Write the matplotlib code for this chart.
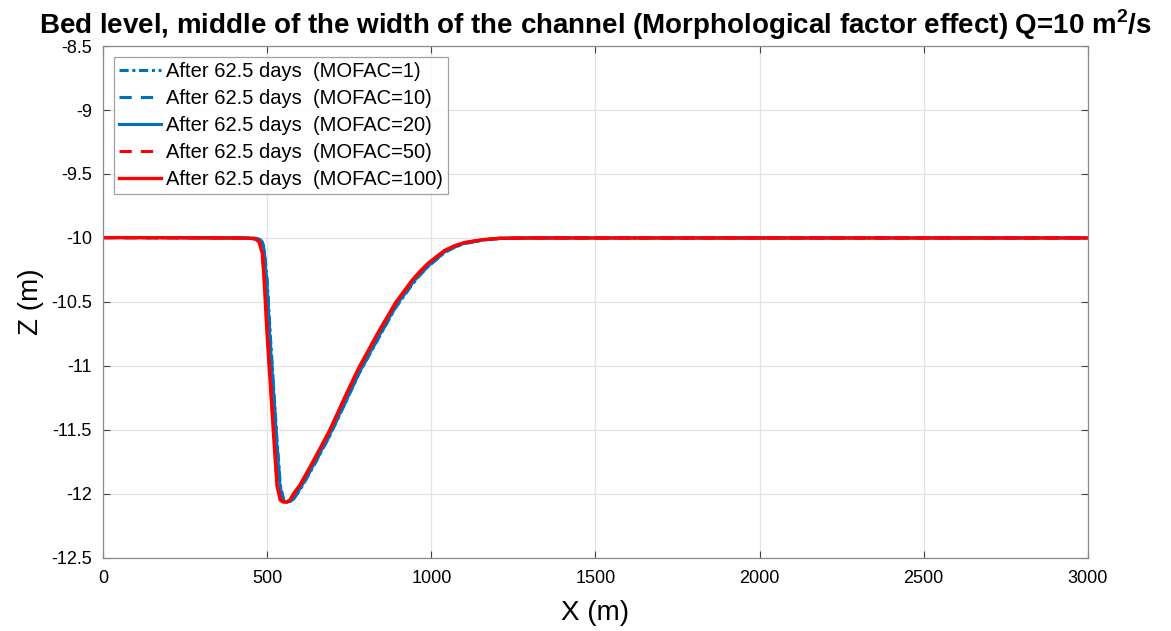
import matplotlib
matplotlib.use("Agg")
import matplotlib.pyplot as plt

# Distance along the channel (m)
x_m = [0, 200, 400, 450, 465, 475, 485, 490, 500, 510, 520, 530, 540, 550,
       560, 570, 580, 600, 640, 690, 740, 780, 840, 890, 940, 965, 990, 1040,
       1070, 1100, 1160, 1210, 1300, 2000, 3000]

# Bed level (m) at the channel centreline for each morphological factor
z_mofac1 = [-9.997, -9.998, -10.0, -10.001, -10.003, -10.008, -10.03, -10.07,
            -10.33, -10.78, -11.18, -11.58, -11.93, -12.045, -12.06, -12.055,
            -12.04, -11.97, -11.79, -11.55, -11.28, -11.06, -10.78, -10.55,
            -10.37, -10.29, -10.225, -10.115, -10.074, -10.045, -10.016,
            -10.004, -10.0, -10.0, -10.0]
z_mofac10 = [-9.997, -9.998, -10.0, -10.001, -10.004, -10.01, -10.035, -10.08,
             -10.37, -10.82, -11.22, -11.62, -11.95, -12.05, -12.06, -12.055,
             -12.04, -11.965, -11.785, -11.545, -11.275, -11.055, -10.775,
             -10.545, -10.365, -10.288, -10.222, -10.112, -10.072, -10.043,
             -10.015, -10.004, -10.0, -10.0, -10.0]
z_mofac20 = [-9.997, -9.998, -10.0, -10.001, -10.004, -10.01, -10.04, -10.08,
             -10.39, -10.85, -11.24, -11.64, -11.97, -12.053, -12.065, -12.06,
             -12.04, -11.96, -11.78, -11.54, -11.27, -11.05, -10.77, -10.54,
             -10.36, -10.285, -10.22, -10.11, -10.071, -10.042, -10.014,
             -10.003, -10.0, -10.0, -10.0]
z_mofac50 = [-9.997, -9.998, -10.0, -10.002, -10.008, -10.025, -10.1, -10.26,
             -10.72, -11.12, -11.52, -11.91, -12.045, -12.065, -12.065, -12.05,
             -12.005, -11.935, -11.75, -11.51, -11.23, -11.015, -10.735,
             -10.515, -10.34, -10.266, -10.2, -10.1, -10.064, -10.037, -10.012,
             -10.002, -10.0, -10.0, -10.0]
z_mofac100 = [-9.997, -9.998, -10.0, -10.003, -10.01, -10.03, -10.12, -10.3,
              -10.77, -11.16, -11.56, -11.94, -12.05, -12.065, -12.065, -12.045,
              -12.0, -11.93, -11.745, -11.505, -11.225, -11.01, -10.73, -10.51,
              -10.335, -10.262, -10.198, -10.098, -10.062, -10.036, -10.012,
              -10.002, -10.0, -10.0, -10.0]

labels = ["After 62.5 days  (MOFAC=1)",
          "After 62.5 days  (MOFAC=10)",
          "After 62.5 days  (MOFAC=20)",
          "After 62.5 days  (MOFAC=50)",
          "After 62.5 days  (MOFAC=100)"]

x_ticks = [0, 500, 1000, 1500, 2000, 2500, 3000]
y_ticks = [-12.5, -12, -11.5, -11, -10.5, -10, -9.5, -9, -8.5]
y_ticklabels = ["-12.5", "-12", "-11.5", "-11", "-10.5", "-10", "-9.5", "-9", "-8.5"]

blue = "#0072BD"
red = "#FF0000"

plt.rcParams["font.family"] = ["Liberation Sans", "DejaVu Sans"]
plt.rcParams["mathtext.fontset"] = "custom"
plt.rcParams["mathtext.rm"] = "Liberation Sans:bold"
plt.rcParams["mathtext.bf"] = "Liberation Sans:bold"

fig = plt.figure(figsize=(11.71, 6.31), dpi=100)
ax = fig.add_axes([0.088, 0.116, 0.841, 0.811])

ax.plot(x_m, z_mofac1, color=blue, lw=2.2, ls=(0, (3, 1.2, 1, 1.2)), label=labels[0])
ax.plot(x_m, z_mofac10, color=blue, lw=2.2, ls=(0, (4, 3)), label=labels[1])
ax.plot(x_m, z_mofac20, color=blue, lw=2.2, ls="-", label=labels[2])
ax.plot(x_m, z_mofac50, color=red, lw=2.2, ls=(0, (4, 3)), label=labels[3])
ax.plot(x_m, z_mofac100, color=red, lw=2.4, ls="-", label=labels[4])

ax.set_xlim(0, 3000)
ax.set_ylim(-12.5, -8.5)
ax.set_xticks(x_ticks)
ax.set_yticks(y_ticks)
ax.set_yticklabels(y_ticklabels)
ax.tick_params(direction="in", top=True, right=True, labelsize=13,
               color="#444444", length=5)
ax.tick_params(axis="x", pad=9)
ax.tick_params(axis="y", pad=8)
ax.grid(True, color="#e3e3e3", lw=0.9)
ax.set_axisbelow(True)
for s in ax.spines.values():
    s.set_color("#8a8a8a")
    s.set_linewidth(0.9)

ax.set_xlabel("X (m)", fontsize=20, labelpad=9)
ax.set_ylabel("Z (m)", fontsize=20, labelpad=5)
ax.set_title(r"Bed level, middle of the width of the channel (Morphological factor effect) Q=10 m$^{2}$/s",
             fontsize=20, fontweight="bold", pad=9)

leg = ax.legend(loc="upper left", fontsize=14.5, frameon=True, fancybox=False,
                handlelength=2.1, handletextpad=0.25, borderpad=0.25,
                labelspacing=0.4, borderaxespad=0.55, bbox_to_anchor=(0.0, 1.0))
leg.get_frame().set_edgecolor("#8a8a8a")
leg.get_frame().set_linewidth(0.9)

fig.savefig("out.png", dpi=100, facecolor="white")
